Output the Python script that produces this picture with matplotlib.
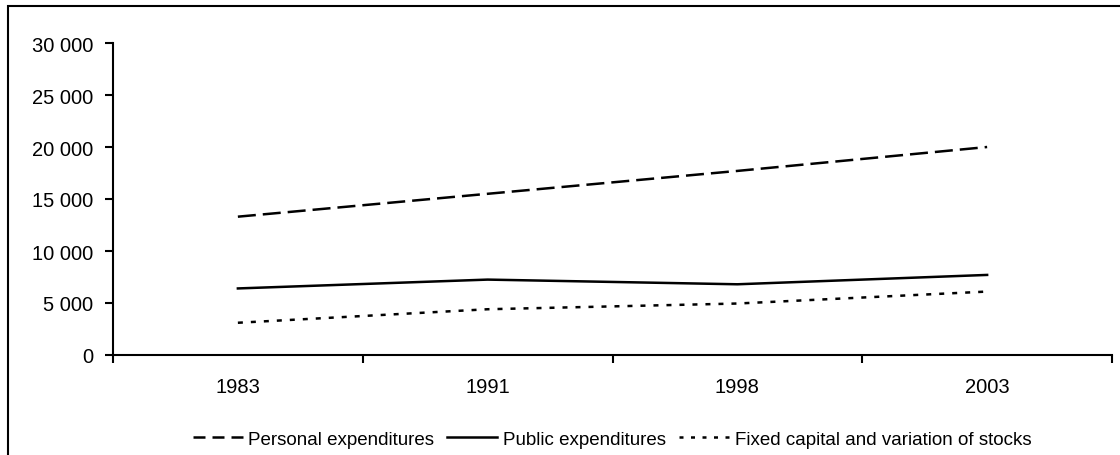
import matplotlib
matplotlib.use('Agg')
import matplotlib.pyplot as plt
from matplotlib.lines import Line2D
from matplotlib.patches import Rectangle
from matplotlib.ticker import FuncFormatter

plt.rcParams['font.family'] = ['Liberation Sans', 'DejaVu Sans']

years = ['1983', '1991', '1998', '2003']
personal = [13300, 15500, 17700, 20000]
public = [6400, 7250, 6800, 7700]
fixed_capital = [3100, 4400, 4950, 6100]
series_names = ['Personal expenditures', 'Public expenditures',
                'Fixed capital and variation of stocks']

W, H = 1120, 456
fig = plt.figure(figsize=(W / 100, H / 100), dpi=100)
ax = fig.add_axes([113 / W, 1 - 356 / H, (1112 - 113) / W, (356 - 44) / H])

x = range(len(years))
ax.plot(x, personal, color='black', lw=1.8, dashes=(7.2, 2.8))
ax.plot(x, public, color='black', lw=1.8)
ax.plot(x, fixed_capital, color='black', lw=1.8, dashes=(2.0, 3.2))

ax.set_xlim(-0.5, len(years) - 0.5)
ax.set_ylim(0, 30000)
ax.set_yticks(range(0, 30001, 5000))
ax.yaxis.set_major_formatter(FuncFormatter(lambda v, p: f'{int(v):,}'.replace(',', ' ')))

# category boundaries get the tick marks, centres get the labels
ax.set_xticks([i - 0.5 for i in range(len(years) + 1)])
ax.set_xticklabels([])
ax.set_xticks(list(x), minor=True)
ax.set_xticklabels(years, minor=True)
ax.tick_params(axis='x', which='major', direction='out', length=6, width=1.5)
ax.tick_params(axis='x', which='minor', length=0, pad=16, labelsize=14.5)
ax.tick_params(axis='y', direction='out', length=6, width=1.5, pad=8, labelsize=14.5)

for side in ('top', 'right'):
    ax.spines[side].set_visible(False)
for side in ('left', 'bottom'):
    ax.spines[side].set_linewidth(1.5)

# legend keys use a tighter dash pattern so each key shows whole dashes
keys = [Line2D([], [], color='black', lw=1.8, dashes=(4.8, 2.8)),
        Line2D([], [], color='black', lw=1.8),
        Line2D([], [], color='black', lw=1.8, dashes=(1.6, 3.0))]
ax.legend(keys, series_names, loc='center',
          bbox_to_anchor=(612 / W, (H - 440) / H), bbox_transform=fig.transFigure,
          ncol=3, frameon=False, fontsize=13.5, handlelength=2.67, handletextpad=0.3,
          columnspacing=0.7)

# outer frame around the whole chart area
fig.patches.append(Rectangle((8 / W, -0.1), 1.2, 1 - 7 / H + 0.1, transform=fig.transFigure,
                             fill=False, edgecolor='black', lw=1.5))

fig.savefig('out.png', dpi=100)
